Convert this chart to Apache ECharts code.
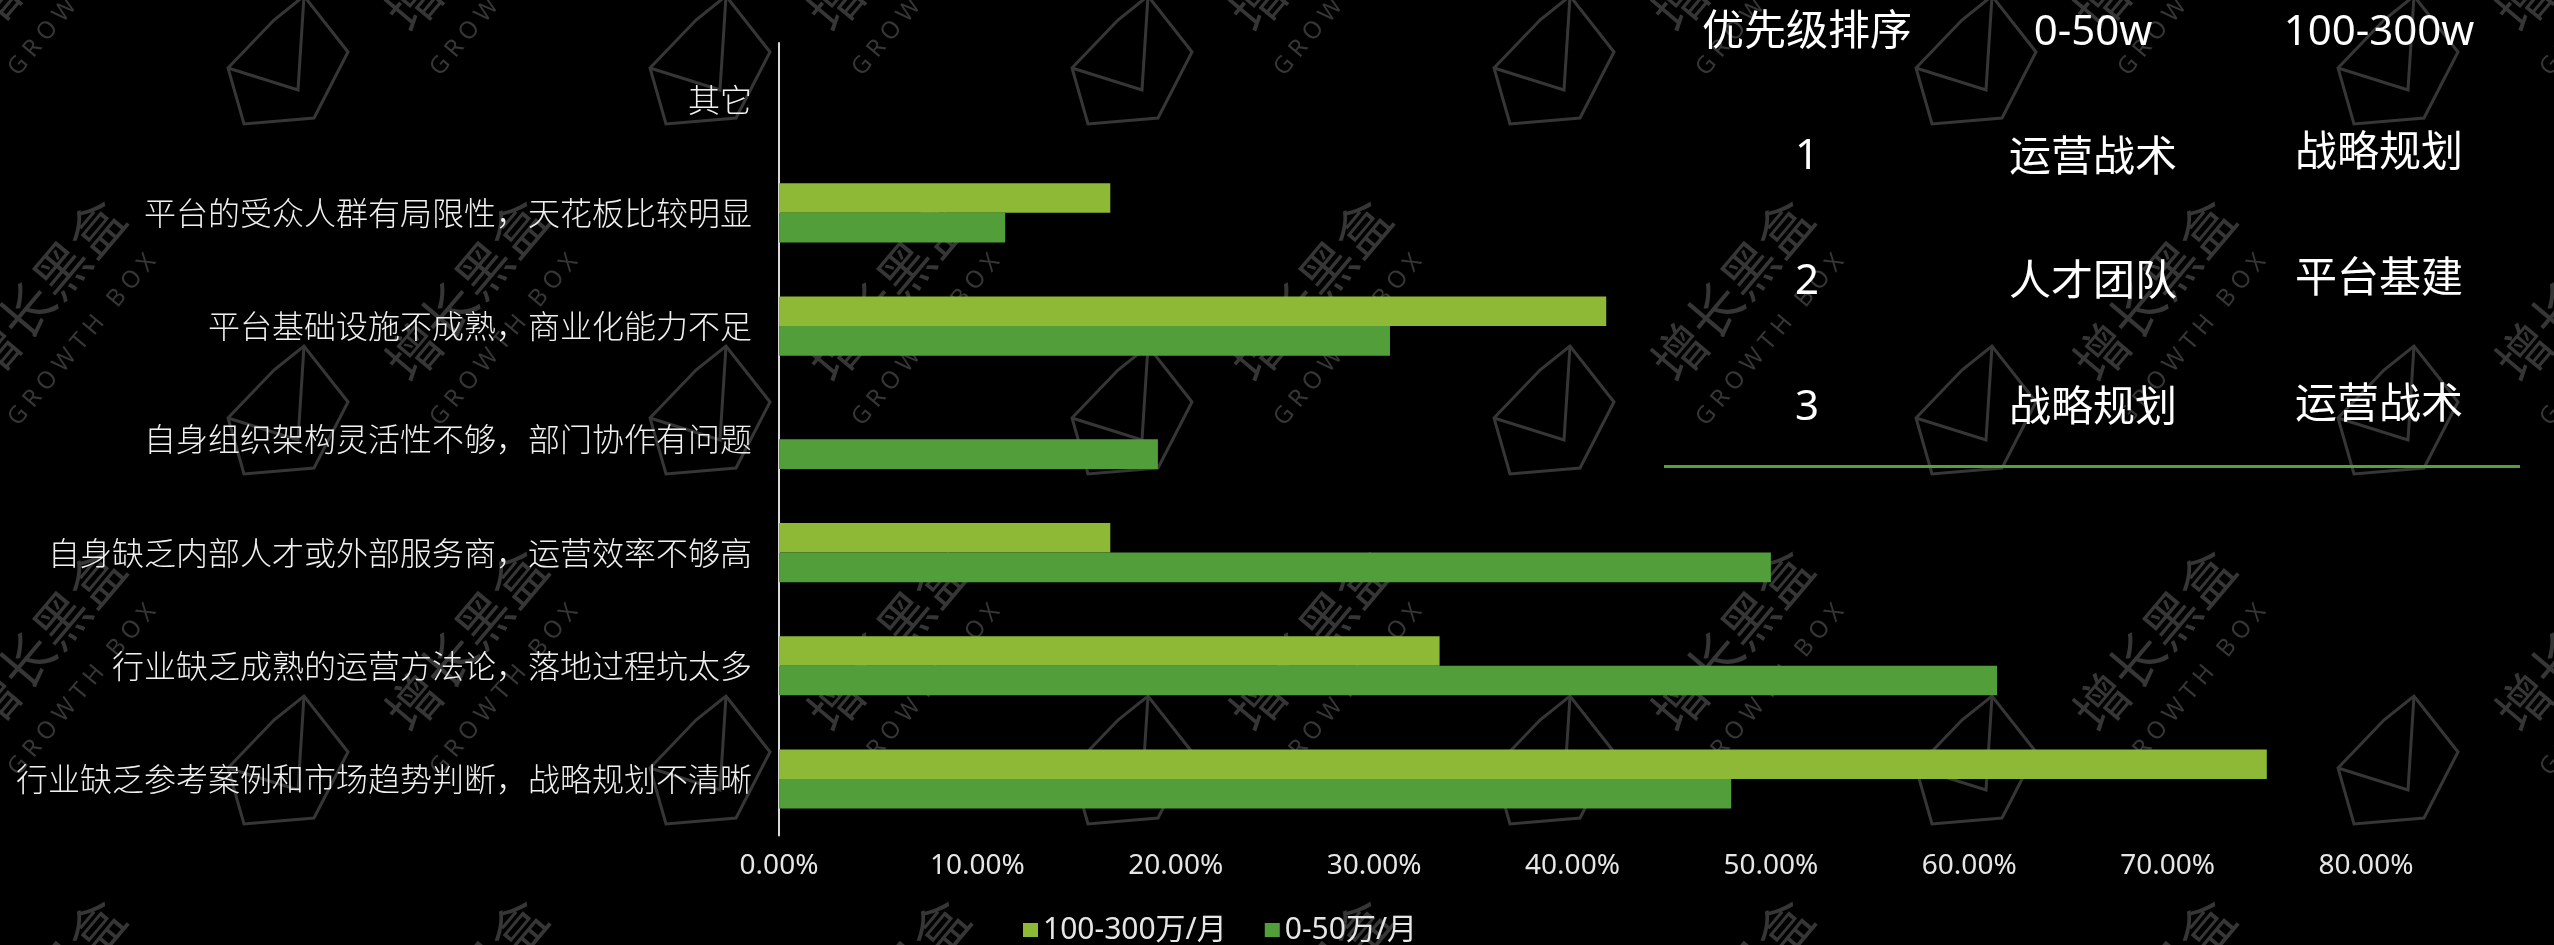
<!DOCTYPE html>
<html>
<head>
<meta charset="utf-8">
<script src="https://cdn.jsdelivr.net/npm/echarts@6/dist/echarts.min.js"></script>
<style>
html,body{margin:0;padding:0;background:#000;}
#chart{width:2554px;height:945px;}
</style>
</head>
<body>
<div id="chart"></div>
<script>
// ---- data ----
const categories = [
  '行业缺乏参考案例和市场趋势判断，战略规划不清晰',
  '行业缺乏成熟的运营方法论，落地过程坑太多',
  '自身缺乏内部人才或外部服务商，运营效率不够高',
  '自身组织架构灵活性不够，部门协作有问题',
  '平台基础设施不成熟，商业化能力不足',
  '平台的受众人群有局限性，天花板比较明显',
  '其它'
];
const seriesNames = ['100-300万/月', '0-50万/月'];
const valuesHigh = [0.750, 0.333, 0.167, 0, 0.417, 0.167, 0];   // 100-300万/月
const valuesLow  = [0.480, 0.614, 0.500, 0.191, 0.308, 0.114, 0]; // 0-50万/月
const tableHeader = ['优先级排序', '0-50w', '100-300w'];
const tableRank = ['1', '2', '3'];
const tableLow  = ['运营战术', '人才团队', '战略规划'];
const tableHigh = ['战略规划', '平台基建', '运营战术'];

// ---- styles ----
const LIGHT = '#8DB937';
const DARK = '#529E3A';
const latinFont = "'Noto Sans', 'Noto Sans CJK SC', sans-serif";
const cjkFont = "'Noto Sans CJK SC', sans-serif";

const chart = echarts.init(document.getElementById('chart'), null, {renderer: 'canvas'});

// watermark graphics (decoration)
const graphics = [];
const wmX = [44, 466, 888, 1310, 1732, 2154, 2576];
const wmY = [-60, 290, 640, 990];
const rot = 50 * Math.PI / 180;
const WM = '#363636';
wmY.forEach(y => wmX.forEach(x => {
  graphics.push({
    type: 'text', x: x, y: y, rotation: rot, z: -10, silent: true,
    style: {text: '增长黑盒', fill: WM, font: "54px 'Noto Sans CJK SC'", textAlign: 'center', textVerticalAlign: 'middle'}
  });
  graphics.push({
    type: 'text', x: x + 38, y: y + 50, rotation: rot, z: -10, silent: true,
    style: {text: 'G R O W T H   B O X', fill: WM, font: "24px 'Noto Sans'", textAlign: 'center', textVerticalAlign: 'middle'}
  });
  graphics.push({
    type: 'polygon', x: x - 180, y: y + 120, z: -10, silent: true,
    shape: {points: [[-58, 8], [-12, -40], [18, -64], [62, -8], [28, 58], [-42, 64]]},
    style: {fill: null, stroke: WM, lineWidth: 3}
  });
  graphics.push({
    type: 'polyline', x: x - 180, y: y + 120, z: -10, silent: true,
    shape: {points: [[18, -64], [12, 30], [-58, 8]]},
    style: {fill: null, stroke: WM, lineWidth: 3}
  });
}));

// table graphics
const colX = [1807, 2093, 2379];
const headerY = 33;
const rowY = [[157, 159, 154], [282, 283, 280], [408, 409, 406]];
tableHeader.forEach((t, i) => {
  graphics.push({type: 'text', x: colX[i], y: headerY, style: {text: t, fill: '#fff', font: '42px ' + latinFont, textAlign: 'center', textVerticalAlign: 'middle'}});
});
for (let r = 0; r < 3; r++) {
  [tableRank[r], tableLow[r], tableHigh[r]].forEach((t, i) => {
    graphics.push({type: 'text', x: colX[i], y: rowY[r][i], style: {text: t, fill: '#fff', font: '42px ' + latinFont, textAlign: 'center', textVerticalAlign: 'middle'}});
  });
}
graphics.push({type: 'line', shape: {x1: 1664, y1: 466.5, x2: 2520, y2: 466.5}, style: {stroke: '#55A03A', lineWidth: 3}});

const option = {
  backgroundColor: '#000',
  animation: false,
  grid: {left: 779, right: 188, top: 43, bottom: 109.4, containLabel: false},
  legend: {
    data: seriesNames,
    left: 1018, top: 910,
    itemWidth: 15, itemHeight: 14, itemGap: 38,
    icon: 'rect',
    textStyle: {color: '#e6e6e6', fontSize: 30, fontFamily: latinFont}
  },
  xAxis: {
    type: 'value', min: 0, max: 0.8, interval: 0.1,
    axisLine: {show: false}, axisTick: {show: false}, splitLine: {show: false},
    axisLabel: {
      color: '#e6e6e6', fontSize: 28, fontFamily: latinFont, margin: 16,
      formatter: v => (v * 100).toFixed(2) + '%'
    }
  },
  yAxis: {
    type: 'category', data: categories,
    axisLine: {show: true, lineStyle: {color: '#d9d9d9', width: 2}},
    axisTick: {show: false},
    axisLabel: {color: '#f0f0f0', fontSize: 32, fontFamily: cjkFont, fontWeight: 300, margin: 27}
  },
  series: [
    {name: seriesNames[0], type: 'bar', data: valuesHigh, barWidth: 29.6, barGap: '0%',
     itemStyle: {color: LIGHT}},
    {name: seriesNames[1], type: 'bar', data: valuesLow, barWidth: 29.6, barGap: '0%',
     itemStyle: {color: DARK}}
  ],
  graphic: graphics
};
chart.setOption(option);
</script>
</body>
</html>
